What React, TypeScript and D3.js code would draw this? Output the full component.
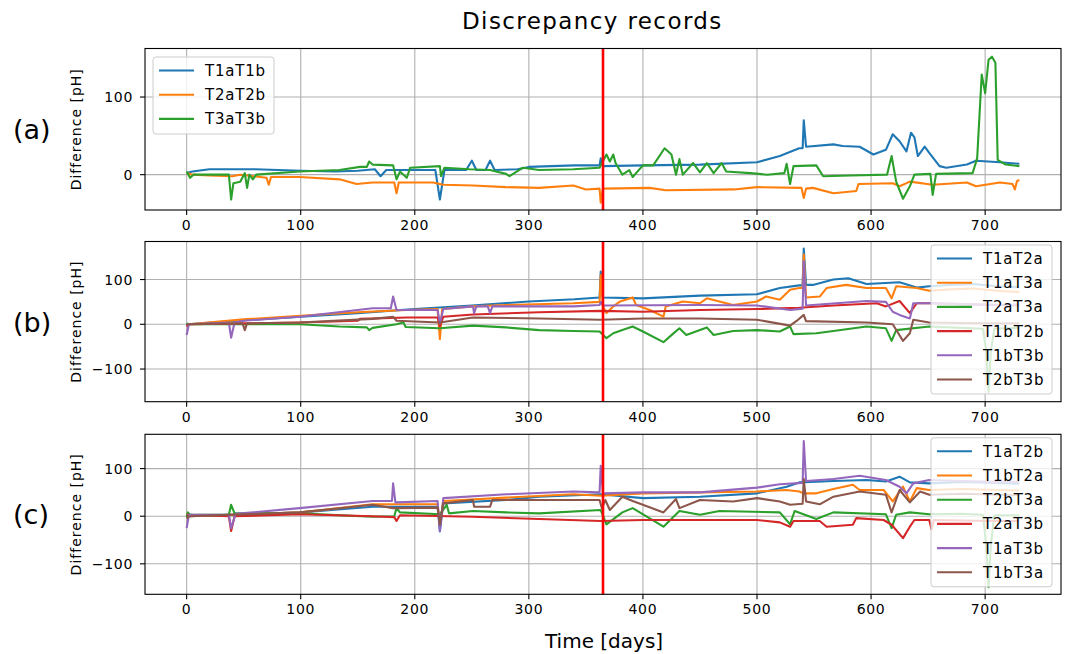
import React from 'react'
import * as d3 from 'd3'

// [day, difference] pairs
const T1aT1b = [[0,2],[5,4],[20,7],[60,7],[80,6],[100,5],[130,4],[150,5],[165,7],[170,-2],[175,6],[200,6],[218,6],[222,-32],[226,6],[245,6],[250,18],[254,6],[262,6],[266,18],[270,6],[290,7],[300,10],[340,12],[362,12],[363,21],[365,11],[400,12],[450,13],[500,16],[520,24],[537,34],[540,34],[541,70],[543,36],[567,39],[575,37],[590,36],[602,26],[613,32],[619,52],[625,43],[631,30],[635,54],[638,48],[641,24],[647,36],[651,28],[660,11],[666,9],[684,13],[692,18],[713,16],[730,14]]
const T2aT2b = [[0,2],[5,0],[20,-1],[40,-2],[47,0],[70,-4],[72,-13],[74,-3],[99,-3],[134,-6],[149,-12],[163,-10],[182,-10],[184,-24],[186,-10],[216,-10],[225,-13],[251,-14],[280,-16],[309,-17],[339,-14],[350,-19],[362,-18],[363,-36],[365,-18],[406,-17],[420,-20],[480,-19],[500,-16],[539,-17],[541,-30],[543,-18],[549,-17],[567,-24],[587,-21],[589,-12],[619,-11],[625,-15],[634,-9],[654,-13],[684,-10],[692,-15],[713,-10],[724,-12],[726,-19],[728,-8],[730,-7]]
const T3aT3b = [[0,4],[3,-4],[6,0],[37,0],[39,-32],[41,-11],[47,-9],[51,2],[53,-17],[55,0],[58,-6],[61,0],[99,4],[134,6],[152,10],[158,10],[160,17],[163,13],[181,12],[184,-6],[187,4],[193,-4],[196,9],[222,11],[223,-2],[226,9],[248,7],[266,6],[280,1],[283,-2],[295,9],[309,6],[339,7],[362,9],[368,26],[371,17],[374,26],[376,15],[382,0],[388,6],[391,-3],[400,12],[409,12],[419,34],[425,26],[429,0],[432,20],[435,0],[444,15],[450,3],[456,15],[462,2],[469,15],[473,4],[494,2],[509,0],[524,2],[526,14],[529,-12],[532,11],[552,12],[558,-2],[582,-1],[614,0],[618,24],[622,-9],[628,-31],[634,-15],[638,0],[652,1],[654,-26],[657,1],[689,2],[693,21],[697,129],[700,105],[703,148],[706,152],[709,144],[711,19],[718,13],[730,11]]

const T1aT2a = [[0,-2],[1,0],[50,9],[100,17],[150,25],[200,34],[250,42],[300,51],[340,56],[362,60],[363,118],[365,60],[400,58],[450,64],[500,67],[520,81],[537,87],[540,87],[541,169],[543,88],[549,88],[567,100],[580,103],[596,90],[625,94],[640,82],[651,85],[670,88],[690,90],[710,85],[730,83]]
const T1aT3a = [[0,-5],[2,0],[50,11],[100,19],[150,27],[193,32],[220,34],[222,-33],[224,34],[251,40],[280,43],[339,47],[362,50],[363,110],[365,40],[368,25],[374,40],[380,51],[391,60],[394,43],[406,32],[418,17],[420,40],[435,51],[450,47],[456,58],[479,43],[500,51],[508,62],[520,55],[529,77],[537,81],[540,81],[541,156],[543,60],[555,62],[561,81],[578,88],[596,81],[613,81],[618,58],[622,85],[640,81],[651,75],[670,78],[690,80],[710,75],[730,72]]
const T2aT3a = [[0,2],[2,0],[90,0],[99,0],[134,-5],[158,-7],[160,-13],[163,-8],[184,0],[190,4],[192,-6],[222,-9],[251,-3],[280,-7],[309,-13],[339,-15],[362,-16],[368,-31],[374,-20],[382,-13],[391,-5],[400,-16],[418,-40],[426,-22],[432,-9],[438,-24],[456,-7],[462,-24],[479,-15],[500,-13],[520,-16],[529,-5],[532,-22],[552,-20],[567,-15],[596,-5],[613,-9],[618,-37],[622,-13],[651,-5],[680,-8],[698,-10],[701,-60],[703,-152],[705,-60],[708,-10],[730,-8]]
const T1bT2b = [[0,-5],[2,0],[50,2],[99,4],[150,8],[152,12],[193,15],[220,15],[222,-5],[225,17],[251,22],[309,27],[363,30],[400,28],[450,32],[500,34],[537,37],[567,42],[605,47],[613,40],[625,52],[634,25],[640,47],[651,47],[680,45],[710,43],[730,42]]
const T1bT3b = [[0,-24],[2,0],[37,4],[39,-30],[42,4],[50,8],[99,17],[163,36],[179,36],[181,62],[184,32],[220,32],[222,2],[225,34],[251,40],[252,25],[254,40],[264,40],[266,25],[268,40],[339,40],[362,43],[363,50],[365,42],[450,43],[500,42],[529,32],[540,35],[541,141],[543,42],[596,52],[613,50],[619,28],[625,21],[634,13],[637,47],[651,47],[680,45],[710,43],[730,44]]
const T2bT3b = [[0,0],[49,2],[51,-13],[53,2],[99,4],[163,12],[181,17],[184,8],[222,4],[251,15],[309,13],[363,10],[400,13],[450,13],[500,10],[529,-3],[535,8],[541,21],[543,7],[596,4],[619,0],[628,-37],[634,-20],[637,10],[651,4],[680,3],[710,2],[730,2]]

const T1aT2b = [[0,-3],[2,0],[50,4],[100,8],[163,20],[220,20],[222,-32],[225,27],[280,34],[309,41],[363,46],[400,38],[450,41],[500,48],[526,62],[537,71],[567,74],[596,76],[613,73],[625,83],[634,71],[651,69],[680,72],[710,70],[730,68]]
const T1bT2a = [[0,-3],[2,0],[50,4],[100,8],[163,25],[220,25],[222,-18],[225,32],[280,39],[339,46],[363,43],[400,48],[500,52],[526,55],[537,52],[541,48],[552,48],[567,57],[584,66],[590,55],[611,55],[619,31],[628,62],[634,31],[640,59],[651,55],[680,57],[710,55],[730,54]]
const T2bT3a = [[0,-2],[1,8],[3,3],[37,3],[39,24],[42,6],[99,6],[163,-1],[182,0],[184,17],[187,8],[222,4],[228,24],[230,6],[251,11],[280,8],[309,6],[363,13],[368,-17],[382,8],[391,17],[418,-22],[432,11],[450,3],[467,11],[520,8],[529,-17],[533,11],[552,-6],[567,8],[613,4],[618,-25],[622,3],[634,8],[651,4],[680,5],[698,3],[701,-60],[703,-149],[705,-60],[708,2],[730,2]]
const T2aT3b = [[0,3],[37,0],[39,-31],[42,0],[99,4],[163,0],[182,-2],[184,-10],[187,2],[251,-1],[309,-6],[363,-10],[400,-8],[500,-8],[520,-13],[529,-22],[532,-10],[555,-10],[561,-22],[584,-18],[587,-4],[611,-8],[618,-18],[628,-46],[634,-22],[638,-8],[651,-8],[653,-28],[655,-8],[680,-9],[710,-10],[730,-10]]
const T1aT3b = [[0,-25],[2,3],[37,3],[39,-25],[43,5],[99,17],[163,32],[180,32],[181,69],[183,29],[220,32],[222,-31],[225,38],[280,46],[339,52],[362,50],[363,106],[365,48],[400,50],[450,50],[500,60],[520,67],[540,70],[541,158],[543,74],[567,78],[590,85],[613,76],[625,62],[631,48],[637,69],[651,76],[680,74],[710,72],[730,72]]
const T1bT3a = [[0,-5],[2,0],[99,8],[163,24],[181,17],[220,18],[222,-18],[225,27],[251,34],[252,20],[266,20],[268,34],[362,34],[364,17],[367,34],[371,13],[382,41],[391,32],[418,8],[429,36],[432,17],[450,34],[479,31],[500,38],[520,31],[529,24],[540,26],[541,78],[543,31],[555,25],[567,41],[590,52],[613,45],[618,8],[625,55],[634,29],[643,52],[651,45],[680,47],[710,45],[730,44]]

const xTicks = [0, 100, 200, 300, 400, 500, 600, 700]
const yTicksA = [0, 100]
const yTicksBC = [-100, 0, 100]
const markerDay = 365

const colors = ['#1f77b4', '#ff7f0e', '#2ca02c', '#d62728', '#9467bd', '#8c564b']
const FONT = 'DejaVu Sans'

const panels = [
  { tag: '(a)', top: 48.5, bottom: 210, yDomain: [-45.5, 162.5], yTicks: yTicksA, legend: 'left',
    series: [['T1aT1b', T1aT1b], ['T2aT2b', T2aT2b], ['T3aT3b', T3aT3b]] },
  { tag: '(b)', top: 241.5, bottom: 401.7, yDomain: [-173, 185], yTicks: yTicksBC, legend: 'right',
    series: [['T1aT2a', T1aT2a], ['T1aT3a', T1aT3a], ['T2aT3a', T2aT3a], ['T1bT2b', T1bT2b], ['T1bT3b', T1bT3b], ['T2bT3b', T2bT3b]] },
  { tag: '(c)', top: 434.3, bottom: 594.3, yDomain: [-164, 172], yTicks: yTicksBC, legend: 'right',
    series: [['T1aT2b', T1aT2b], ['T1bT2a', T1bT2a], ['T2bT3a', T2bT3a], ['T2aT3b', T2aT3b], ['T1aT3b', T1aT3b], ['T1bT3a', T1bT3a]] },
]

const LEFT = 145
const RIGHT = 1061

function fmt(v: number) {
  return v < 0 ? '\u2212' + Math.abs(v) : String(v)
}

function Panel({ p, idx }: { p: any, idx: number }) {
  const x = d3.scaleLinear().domain([-36.5, 766.5]).range([LEFT, RIGHT])
  const y = d3.scaleLinear().domain(p.yDomain).range([p.bottom, p.top])
  const line = d3.line<number[]>().x(d => x(d[0])).y(d => y(d[1]))
  const clipId = 'clip' + idx
  const mid = (p.top + p.bottom) / 2

  const n = p.series.length
  const boxW = 121
  const boxH = n === 3 ? 77 : 149
  const boxX = p.legend === 'left' ? LEFT + 8 : RIGHT - 9 - boxW
  const boxY = p.legend === 'left' ? p.top + 8.5 : p.top + 3.5

  return (
    <g>
      <defs>
        <clipPath id={clipId}>
          <rect x={LEFT} y={p.top} width={RIGHT - LEFT} height={p.bottom - p.top} />
        </clipPath>
      </defs>
      {/* grid */}
      {xTicks.map(t => (
        <line key={'gx' + t} x1={x(t)} x2={x(t)} y1={p.top} y2={p.bottom} stroke="#b0b0b0" strokeWidth={1.1} />
      ))}
      {p.yTicks.map((t: number) => (
        <line key={'gy' + t} x1={LEFT} x2={RIGHT} y1={y(t)} y2={y(t)} stroke="#b0b0b0" strokeWidth={1.1} />
      ))}
      {/* data */}
      <g clipPath={`url(#${clipId})`}>
        {p.series.map((s: any, i: number) => (
          <path key={s[0]} d={line(s[1]) || ''} fill="none" stroke={colors[i]} strokeWidth={2.1} strokeLinejoin="round" />
        ))}
        <line x1={x(markerDay)} x2={x(markerDay)} y1={p.top} y2={p.bottom} stroke="#ff0000" strokeWidth={2.6} />
      </g>
      {/* frame */}
      <rect x={LEFT} y={p.top} width={RIGHT - LEFT} height={p.bottom - p.top} fill="none" stroke="#000" strokeWidth={1.1} />
      {/* ticks */}
      {xTicks.map(t => (
        <g key={'tx' + t}>
          <line x1={x(t)} x2={x(t)} y1={p.bottom} y2={p.bottom + 5} stroke="#000" strokeWidth={1.1} />
          <text x={x(t)} y={p.bottom + 15} dy="0.36em" textAnchor="middle" fontFamily={FONT} fontSize={14} letterSpacing={0.7}>{fmt(t)}</text>
        </g>
      ))}
      {p.yTicks.map((t: number) => (
        <g key={'ty' + t}>
          <line x1={LEFT - 5} x2={LEFT} y1={y(t)} y2={y(t)} stroke="#000" strokeWidth={1.1} />
          <text x={LEFT - 12} y={y(t)} dy="0.36em" textAnchor="end" fontFamily={FONT} fontSize={14} letterSpacing={0.7}>{fmt(t)}</text>
        </g>
      ))}
      {/* axis label and panel tag */}
      <text transform={`translate(81,${mid}) rotate(-90)`} textAnchor="middle" fontFamily={FONT} fontSize={14} letterSpacing={1}>Difference [pH]</text>
      <text x={13} y={mid + 10} fontFamily={FONT} fontSize={27}>{p.tag}</text>
      {/* legend */}
      <g>
        <rect x={boxX} y={boxY} width={boxW} height={boxH} rx={3} fill="#fff" fillOpacity={0.8} stroke="#cccccc" strokeWidth={1} />
        {p.series.map((s: any, i: number) => {
          const ly = boxY + 13.5 + i * 24.2
          return (
            <g key={'lg' + s[0]}>
              <line x1={boxX + 6} x2={boxX + 41} y1={ly} y2={ly} stroke={colors[i]} strokeWidth={2.1} />
              <text x={boxX + 52} y={ly} dy="0.36em" fontFamily={FONT} fontSize={15} letterSpacing={0.8}>{s[0]}</text>
            </g>
          )
        })}
      </g>
    </g>
  )
}

export default function App() {
  return (
    <svg width={1067} height={654} style={{ position: 'absolute', left: 0, top: 0, background: '#fff' }}>
      <rect x={0} y={0} width={1067} height={654} fill="#fff" />
      <text x={462} y={29} fontFamily={FONT} fontSize={23} letterSpacing={1.4}>Discrepancy records</text>
      {panels.map((p, i) => <Panel key={p.tag} p={p} idx={i} />)}
      <text x={545} y={648} fontFamily={FONT} fontSize={20}>Time [days]</text>
    </svg>
  )
}
